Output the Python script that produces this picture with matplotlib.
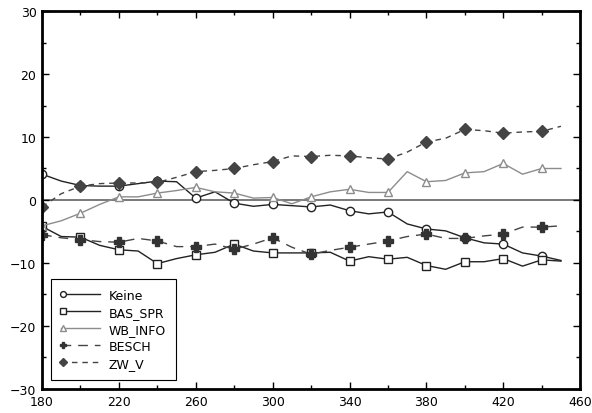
import matplotlib
matplotlib.use("Agg")
import matplotlib.pyplot as plt
from matplotlib.legend_handler import HandlerLine2DCompound
from matplotlib.lines import Line2D
from matplotlib.ticker import MultipleLocator
import numpy as np

# x-Werte (alle 10 Einheiten), Marker nur jeden zweiten Punkt
x = list(range(180, 451, 10))

keine = [4.1, 3.0, 2.3, 2.2, 2.2, 2.6, 3.0, 2.9, 0.3, 1.3, -0.5, -1.0, -0.7, -0.9,
         -1.1, -0.8, -1.7, -2.2, -1.9, -3.8, -4.6, -4.9, -6.0, -6.8, -7.0, -8.4,
         -8.9, -9.6]
bas_spr = [-4.2, -5.8, -5.9, -7.2, -7.9, -8.1, -10.1, -9.3, -8.7, -8.3, -7.0, -8.1,
           -8.4, -8.4, -8.4, -8.3, -9.7, -9.0, -9.4, -9.1, -10.4, -11.0, -9.8, -9.8,
           -9.3, -10.5, -9.5, -9.7]
wb_info = [-4.1, -3.3, -2.1, -0.7, 0.5, 0.5, 1.1, 1.5, 2.0, 1.3, 1.1, 0.3, 0.4,
           -0.6, 0.5, 1.3, 1.7, 1.2, 1.2, 4.5, 2.9, 3.1, 4.3, 4.5, 5.8, 4.1, 5.0, 5.0]
besch = [-5.5, -6.0, -6.3, -6.6, -6.7, -6.1, -6.5, -7.4, -7.4, -7.0, -7.8, -7.0,
         -6.0, -7.5, -8.6, -8.0, -7.5, -7.0, -6.5, -5.8, -5.4, -6.1, -6.1, -5.7,
         -5.4, -4.3, -4.3, -4.1]
zw_v = [-1.1, 1.0, 2.2, 2.6, 2.7, 2.7, 2.8, 3.6, 4.5, 4.7, 5.0, 5.6, 6.1, 7.0,
        6.9, 7.1, 7.0, 6.7, 6.5, 7.6, 9.2, 9.8, 11.2, 11.0, 10.6, 10.8, 10.9, 11.7]

namen = ["Keine", "BAS_SPR", "WB_INFO", "BESCH", "ZW_V"]
x_ticks = [180, 220, 260, 300, 340, 380, 420, 460]


class MarkerLinks(HandlerLine2DCompound):
    # Marker am linken Ende der Legendenlinie
    def get_xdata(self, legend, xdescent, ydescent, width, height, fontsize):
        xdata = np.array([-xdescent, -xdescent + width])
        return xdata, np.array([-xdescent + 1.5])


fig = plt.figure(figsize=(5.92, 4.14), dpi=100)
ax = fig.add_axes([0.071, 0.058, 0.909, 0.913])

ax.axhline(0, color="#555555", lw=1.1, zorder=1)

stile = [
    dict(color="#222222", ls="-", marker="o", mfc="white", mec="#222222", ms=6),
    dict(color="#222222", ls="-", marker="s", mfc="white", mec="#222222", ms=6),
    dict(color="#8c8c8c", ls="-", marker="^", mfc="white", mec="#8c8c8c", ms=6),
    dict(color="#444444", ls=(0, (7, 5)), marker="P", mfc="#333333", mec="#333333", ms=7),
    dict(color="#444444", ls=(0, (4, 3.5)), marker="D", mfc="#444444", mec="#444444", ms=5.8),
]

reihen = [keine, bas_spr, wb_info, besch, zw_v]
for y, name, st in zip(reihen, namen, stile):
    ax.plot(x, y, lw=1.0, markevery=2, label=name, **st)

ax.set_xlim(180, 460)
ax.set_ylim(-30, 30)
ax.set_xticks(x_ticks)
ax.set_xticks([t + 20 for t in x_ticks[:-1]], minor=True)
ax.yaxis.set_major_locator(MultipleLocator(10))
ax.yaxis.set_minor_locator(MultipleLocator(5))
ax.tick_params(which="both", direction="in", top=True, right=True, width=1,
               labelsize=9, pad=4)
ax.tick_params(which="major", length=5)
ax.tick_params(which="minor", length=3)
for s in ax.spines.values():
    s.set_linewidth(2)

leg = ax.legend(loc="lower left", bbox_to_anchor=(0.012, 0.018), fontsize=9,
                handlelength=3.1, handletextpad=0.7, labelspacing=0.32,
                borderpad=0.8, borderaxespad=0.2, markerscale=0.7,
                fancybox=False, framealpha=1, edgecolor="black",
                handler_map={Line2D: MarkerLinks()})
leg.get_frame().set_linewidth(0.8)

fig.savefig("out.png", dpi=100)
